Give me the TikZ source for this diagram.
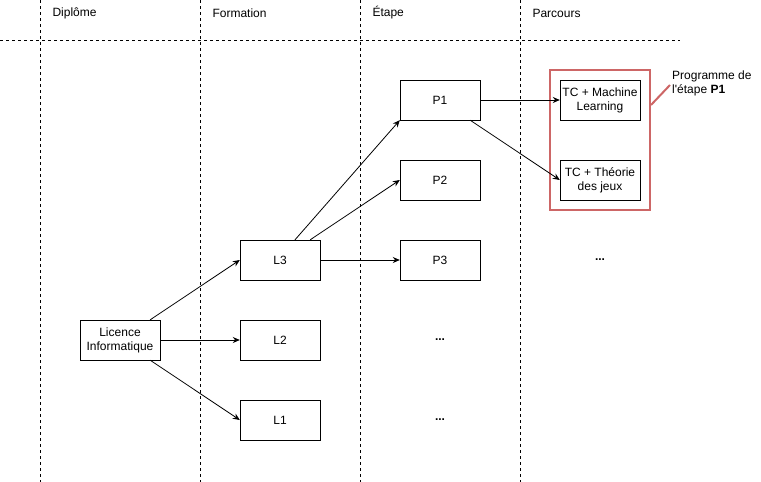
\documentclass[tikz,border=0pt]{standalone}
\usepackage{fontspec}
\setmainfont{Liberation Sans}
\usepackage{xcolor}
\usetikzlibrary{arrows.meta}
\definecolor{progred}{HTML}{CD6666}
\tikzset{
    % Basic node styles
    box/.style={rectangle, draw, minimum width=80pt, minimum height=40pt,
                inner sep=0pt, align=center, font=\fontsize{12}{14}\selectfont},
    head/.style={anchor=west, font=\fontsize{12}{14}\selectfont},
    dots/.style={font=\fontsize{12}{14}\selectfont\bfseries},
    % Line styles
    arrow/.style={-{Stealth[length=7pt, width=6pt]}, line width=0.8pt},
    grid line/.style={dash pattern=on 3pt off 3pt, line width=0.8pt},
}

\begin{document}
\begin{tikzpicture}[x=1pt, y=-1pt]
    \useasboundingbox (0,0) rectangle (761,482);

    % Columns
    \foreach \cx in {40, 200, 360, 520}
        \draw[grid line] (\cx,0) -- (\cx,482);
    \draw[grid line] (0,40) -- (680,40);

    \node[head] (hdip) at (49,13) {Diplôme};
    \node[head] (hfor) at (209,13) {Formation};
    \node[head] (heta) at (369,13) {Étape};
    \node[head] (hpar) at (529,13) {Parcours};

    % Diplome
    \node[box] (lic) at (120,340) {Licence\\Informatique};

    % Formations
    \node[box] (l3) at (280,260) {L3};
    \node[box] (l2) at (280,340) {L2};
    \node[box] (l1) at (280,420) {L1};

    % Etapes
    \node[box] (p1) at (440,100) {P1};
    \node[box] (p2) at (440,180) {P2};
    \node[box] (p3) at (440,260) {P3};
    \node[dots] (e2) at (440,340) {...};
    \node[dots] (e1) at (440,420) {...};

    % Parcours
    \node[box] (ml) at (600,100) {TC + Machine\\Learning};
    \node[box] (th) at (600,180) {TC + Théorie\\des jeux};
    \node[dots] (pp3) at (600,260) {...};

    % Programme P1
    \node[draw=progred, line width=2pt, minimum width=100pt, minimum height=140pt,
          inner sep=0pt] (prog) at (600,140) {};
    \node[anchor=north west, align=left, inner sep=0pt,
          font=\fontsize{12}{14}\selectfont] (note) at (672,71)
          {Programme de\\l\textquotesingle étape \textbf{P1}};
    \draw[progred, line width=2pt] (prog.east |- 0,105) -- (670,85);

    \draw[arrow] (lic.north east) ++(-10,0) -- (l3.west);
    \draw[arrow] (lic.east) -- (l2.west);
    \draw[arrow] (lic.south east) ++(-10,0) -- (l1.west);

    \draw[arrow] (l3.north) ++(15,0) -- (p1.south west);
    \draw[arrow] (l3.north east) ++(-10,0) -- (p2.west);
    \draw[arrow] (l3.east) -- (p3.west);

    \draw[arrow] (p1.east) -- (ml.west);
    \draw[arrow] (p1.south east) ++(-10,0) -- (th.west);
\end{tikzpicture}
\end{document}
